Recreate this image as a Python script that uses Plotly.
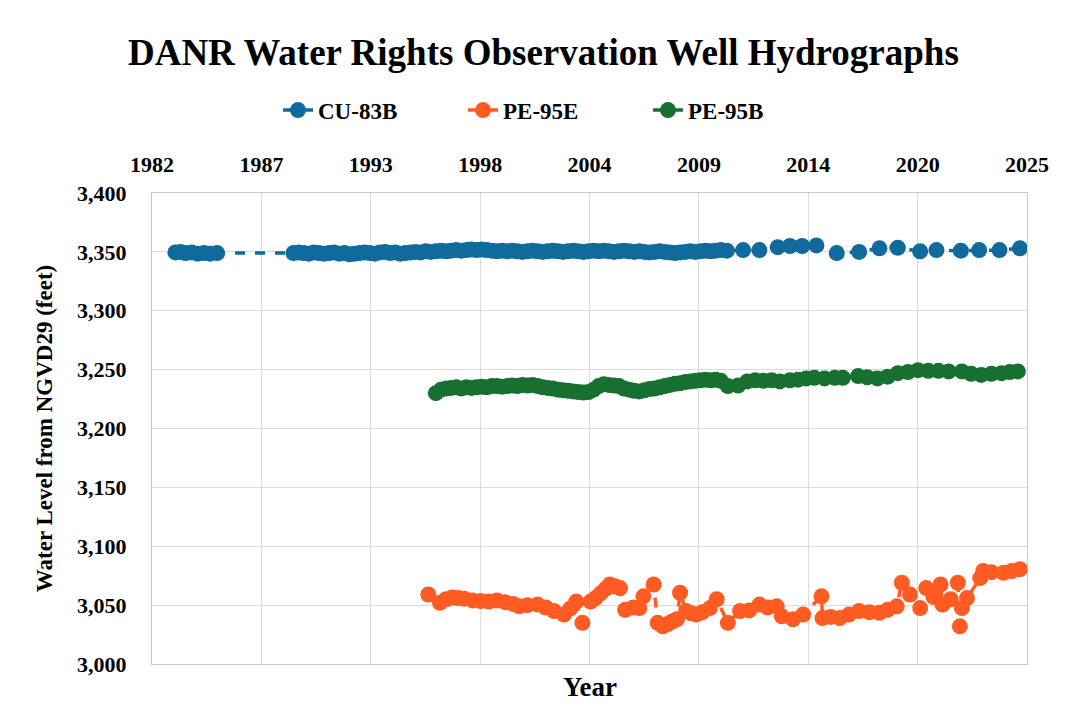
import plotly.graph_objects as go

# ---------------- data (decimal years, feet NGVD29) ----------------
cu83b_year = [1983.7, 1983.95, 1984.2, 1984.5, 1984.8, 1985.1, 1985.4, 1985.75,
              1989.5, 1989.75, 1990.0, 1990.25, 1990.5, 1990.75, 1991.0, 1991.25,
              1991.5, 1991.75, 1992.0, 1992.25, 1992.5, 1992.75, 1993.0, 1993.25,
              1993.5, 1993.75, 1994.0, 1994.25, 1994.5, 1994.75, 1995.0, 1995.25,
              1995.5, 1995.75, 1996.0, 1996.25, 1996.5, 1996.75, 1997.0, 1997.25,
              1997.5, 1997.75, 1998.0, 1998.25, 1998.5, 1998.75, 1999.0, 1999.25,
              1999.5, 1999.75, 2000.0, 2000.25, 2000.5, 2000.75, 2001.0, 2001.25,
              2001.5, 2001.75, 2002.0, 2002.25, 2002.5, 2002.75, 2003.0, 2003.25,
              2003.5, 2003.75, 2004.0, 2004.25, 2004.5, 2004.75, 2005.0, 2005.25,
              2005.5, 2005.75, 2006.0, 2006.25, 2006.5, 2006.75, 2007.0, 2007.25,
              2007.5, 2007.75, 2008.0, 2008.25, 2008.5, 2008.75, 2009.0, 2009.25,
              2009.5, 2009.75, 2010.0, 2010.25, 2010.5, 2010.8,
              2011.6, 2012.4, 2013.3, 2013.9, 2014.5, 2015.2, 2016.2, 2017.3,
              2018.3, 2019.2, 2020.3, 2021.1, 2022.3, 2023.2, 2024.2, 2025.2]
cu83b_level = [3349.5, 3350.0, 3349.0, 3349.5, 3348.5, 3349.0, 3348.5, 3349.0,
               3349.0, 3349.5, 3349.0, 3348.5, 3349.5, 3349.0, 3348.5, 3349.0,
               3349.5, 3348.5, 3349.0, 3348.0, 3348.5, 3349.0, 3349.5, 3349.0,
               3348.5, 3349.5, 3350.0, 3349.0, 3349.5, 3348.5, 3349.0, 3349.5,
               3350.0, 3349.5, 3350.5, 3350.0, 3350.5, 3351.0, 3350.5, 3351.0,
               3351.5, 3351.0, 3351.5, 3352.0, 3351.5, 3352.0, 3351.5, 3351.0,
               3350.5, 3351.0, 3350.5, 3351.0, 3350.5, 3350.0, 3350.5, 3351.0,
               3350.5, 3350.0, 3350.5, 3351.0, 3350.5, 3350.0, 3350.5, 3351.0,
               3350.5, 3350.0, 3350.5, 3351.0, 3350.5, 3351.0, 3350.5, 3350.0,
               3350.5, 3351.0, 3350.5, 3350.0, 3350.5, 3350.0, 3349.5, 3350.0,
               3350.5, 3350.0, 3349.5, 3349.0, 3349.5, 3350.0, 3350.5, 3350.0,
               3350.5, 3351.0, 3350.5, 3351.0, 3351.5, 3351.0,
               3351.5, 3351.5, 3354.0, 3355.0, 3355.0, 3355.5, 3349.0, 3350.0,
               3353.0, 3353.5, 3350.5, 3351.5, 3351.0, 3351.5, 3351.5, 3353.0]

pe95e_year = [1996.13, 1996.7, 1997.0, 1997.3, 1997.6, 1997.9, 1998.3, 1998.7,
              1999.1, 1999.5, 1999.9, 2000.3, 2000.6, 2001.0, 2001.5, 2001.9,
              2002.3, 2002.8, 2003.1, 2003.4, 2003.7, 2004.1, 2004.35, 2004.6,
              2004.85, 2005.05, 2005.3, 2005.55, 2005.8, 2006.2, 2006.5, 2006.7,
              2007.2, 2007.4, 2007.65, 2007.9, 2008.1, 2008.35, 2008.5, 2008.8,
              2009.05, 2009.3, 2009.6, 2009.97, 2010.3, 2010.85, 2011.45, 2011.9,
              2012.4, 2012.8, 2013.25, 2013.5, 2014.05, 2014.55, 2015.45, 2015.5,
              2015.9, 2016.35, 2016.8, 2017.3, 2017.8, 2018.3, 2018.7, 2019.15,
              2019.4, 2019.8, 2020.3, 2020.6, 2020.95, 2021.3, 2021.4, 2021.8,
              2022.15, 2022.25, 2022.35, 2022.6, 2023.25, 2023.4, 2023.8, 2024.4,
              2024.8, 2025.2]
pe95e_level = [3059.0, 3052.0, 3055.0, 3056.5, 3056.0, 3055.5, 3054.0, 3053.5,
               3053.0, 3054.0, 3052.5, 3051.0, 3049.0, 3050.0, 3050.5, 3048.0,
               3045.0, 3042.0, 3047.0, 3053.0, 3035.0, 3053.0, 3056.0, 3060.0,
               3064.0, 3067.5, 3066.0, 3064.5, 3046.0, 3048.0, 3047.5, 3057.5,
               3067.5, 3035.0, 3032.0, 3034.0, 3036.0, 3038.0, 3060.5, 3045.0,
               3043.0, 3042.0, 3044.0, 3047.5, 3055.0, 3035.0, 3045.0, 3045.5,
               3050.5, 3048.0, 3049.0, 3040.5, 3038.0, 3042.0, 3057.5, 3039.0,
               3040.0, 3039.0, 3042.0, 3045.0, 3044.0, 3043.5, 3046.0, 3049.0,
               3069.0, 3059.0, 3047.5, 3064.5, 3057.0, 3067.5, 3050.5, 3055.0,
               3069.0, 3032.0, 3047.5, 3056.0, 3073.0, 3079.0, 3078.0, 3077.5,
               3079.0, 3080.5]

pe95b_year = [1996.5, 1996.75, 1997.0, 1997.25, 1997.5, 1997.75, 1998.0, 1998.25,
              1998.5, 1998.75, 1999.0, 1999.25, 1999.5, 1999.75, 2000.0, 2000.25,
              2000.5, 2000.75, 2001.0, 2001.25, 2001.5, 2001.75, 2002.0, 2002.25,
              2002.5, 2002.75, 2003.0, 2003.25, 2003.5, 2003.75, 2004.0, 2004.25,
              2004.5, 2004.75, 2005.0, 2005.25, 2005.5, 2005.75, 2006.0, 2006.25,
              2006.5, 2006.75, 2007.0, 2007.25, 2007.5, 2007.75, 2008.0, 2008.25,
              2008.5, 2008.75, 2009.0, 2009.25, 2009.5, 2009.75, 2010.0, 2010.25,
              2010.5, 2010.85, 2011.35, 2011.8, 2012.2, 2012.6, 2013.0, 2013.4,
              2013.9, 2014.3, 2014.7, 2015.1, 2015.6, 2016.1, 2016.5, 2017.25,
              2017.7, 2018.2, 2018.7, 2019.2, 2019.7, 2020.2, 2020.7, 2021.2,
              2021.7, 2022.35, 2022.8, 2023.3, 2023.8, 2024.3, 2024.7, 2025.1]
pe95b_level = [3230.0, 3233.0, 3234.0, 3234.5, 3235.0, 3234.0, 3235.0, 3234.5,
               3235.0, 3235.5, 3235.0, 3236.0, 3236.0, 3235.5, 3236.0, 3236.5,
               3236.0, 3237.0, 3236.5, 3237.0, 3236.0, 3235.0, 3234.5, 3234.0,
               3233.0, 3232.5, 3232.0, 3231.5, 3231.0, 3230.5, 3231.0, 3233.0,
               3236.0, 3237.5, 3237.0, 3236.5, 3236.0, 3234.0, 3233.0, 3232.0,
               3231.5, 3232.5, 3233.5, 3234.0, 3235.0, 3236.0, 3237.0, 3238.0,
               3238.5, 3239.5, 3240.0, 3240.5, 3241.0, 3241.5, 3241.0, 3241.5,
               3240.5, 3236.0, 3236.5, 3240.0, 3241.0, 3240.5, 3241.0, 3240.0,
               3241.0, 3241.5, 3242.5, 3243.0, 3242.5, 3243.0, 3243.0, 3244.5,
               3243.5, 3242.5, 3244.0, 3247.0, 3248.0, 3249.5, 3249.0, 3249.0,
               3248.5, 3248.5, 3246.5, 3245.5, 3246.5, 3247.0, 3248.0, 3248.5]

tick_years = [1982.55, 1987.925, 1993.3, 1998.675, 2004.05, 2009.425, 2014.8, 2020.175, 2025.55]
tick_labels = ["1982", "1987", "1993", "1998", "2004", "2009", "2014", "2020", "2025"]

series_names = ["CU-83B", "PE-95E", "PE-95B"]
series_colors = ["#106A9C", "#FF5B22", "#17702F"]

SERIF = "Liberation Serif, Times New Roman, serif"

fig = go.Figure()
for name, xs, ys, col in zip(series_names,
                             [cu83b_year, pe95e_year, pe95b_year],
                             [cu83b_level, pe95e_level, pe95b_level],
                             series_colors):
    fig.add_trace(go.Scatter(
        x=xs, y=ys, name=name, mode="lines+markers",
        line=dict(color=col, width=3.5, dash="10px,10px"),
        marker=dict(color=col, size=16),
    ))

# page body adds an 8px margin, so the figure is 16px smaller and margins shifted
fig.update_layout(
    width=1056, height=711,
    paper_bgcolor="white", plot_bgcolor="white",
    margin=dict(l=144, r=37, t=185, b=55),
    font=dict(family=SERIF, color="black"),
    title=dict(text="DANR Water Rights Observation Well Hydrographs",
               font=dict(family=SERIF, size=37, weight="bold", color="black"),
               x=0.507, xref="container", xanchor="center",
               y=0.938, yref="container", yanchor="middle"),
    legend=dict(orientation="h", x=0.144, xanchor="left", y=1.176, yanchor="middle",
                font=dict(family=SERIF, size=23, weight="bold", color="black"),
                itemwidth=30, entrywidth=140, entrywidthmode="pixels",
                bgcolor="rgba(0,0,0,0)"),
    showlegend=True,
)
fig.update_xaxes(
    side="top", range=[1982.55, 2025.55], automargin=False,
    tickmode="array", tickvals=tick_years, ticktext=tick_labels,
    tickfont=dict(family=SERIF, size=22, weight="bold", color="black"),
    ticklabelstandoff=11,
    showgrid=True, gridcolor="#DCDCDC", gridwidth=1,
    showline=True, linecolor="#C8C8C8", mirror=True,
    zeroline=False, ticks="",
)
fig.update_yaxes(
    range=[3000, 3400], dtick=50, tickformat=",d", automargin=False,
    tickfont=dict(family=SERIF, size=22, weight="bold", color="black"),
    ticklabelstandoff=20,
    showgrid=True, gridcolor="#DCDCDC", gridwidth=1,
    showline=True, linecolor="#C8C8C8", mirror=True,
    zeroline=False, ticks="",
    title=dict(text="Water Level from NGVD29 (feet)",
               font=dict(family=SERIF, size=23, weight="bold", color="black"),
               standoff=18),
)
fig.add_annotation(text="Year", xref="paper", yref="paper", x=0.5, y=0,
                   xanchor="center", yanchor="top", yshift=-6, showarrow=False,
                   font=dict(family=SERIF, size=27, weight="bold", color="black"))

fig.write_html("out.html")
